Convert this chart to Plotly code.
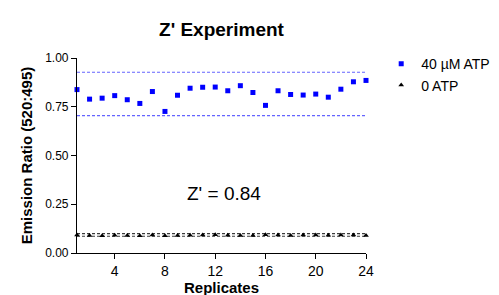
import plotly.graph_objects as go

replicates = list(range(1, 25))
atp40 = [0.838, 0.789, 0.794, 0.807, 0.786, 0.767, 0.828, 0.726, 0.809, 0.845, 0.850, 0.851,
         0.832, 0.858, 0.823, 0.757, 0.832, 0.813, 0.810, 0.815, 0.799, 0.840, 0.878, 0.885]
atp0 = [0.092, 0.090, 0.089, 0.091, 0.090, 0.089, 0.092, 0.089, 0.090, 0.091, 0.092, 0.093,
        0.091, 0.090, 0.090, 0.093, 0.092, 0.090, 0.092, 0.092, 0.091, 0.092, 0.092, 0.090]
atp40_limits = [0.927, 0.705]   # mean +/- 3SD
atp0_limits = [0.099, 0.086]
zprime_text = "Z' = 0.84"
yticks = [0, 0.25, 0.5, 0.75, 1.0]
ytick_labels = ["0.00", "0.25", "0.50", "0.75", "1.00"]
xticks = [4, 8, 12, 16, 20, 24]

FONT = "Liberation Sans, Arial, sans-serif"
fig = go.Figure()

xs = [replicates[0], replicates[-1]]
for v in atp40_limits:
    fig.add_trace(go.Scatter(x=xs, y=[v, v], mode="lines", showlegend=False, hoverinfo="skip",
                             line=dict(color="rgb(100,100,255)", width=1.2, dash="3px,2px")))
for v in atp0_limits:
    fig.add_trace(go.Scatter(x=xs, y=[v, v], mode="lines", showlegend=False, hoverinfo="skip",
                             line=dict(color="rgb(60,60,60)", width=1.2, dash="3px,2px")))

fig.add_trace(go.Scatter(x=replicates, y=atp40, mode="markers", name="40 µM ATP",
                         marker=dict(symbol="square", size=5, color="#0000ff"), cliponaxis=False))
fig.add_trace(go.Scatter(x=replicates, y=atp0, mode="markers", name="0 ATP",
                         marker=dict(symbol="triangle-up", size=5, color="black"), cliponaxis=False))

fig.add_annotation(x=12.67, y=0.304, text=zprime_text, showarrow=False,
                   font=dict(family=FONT, size=19, color="black"))

fig.update_layout(
    width=499, height=295,
    margin=dict(l=69, r=126, t=50, b=43),
    paper_bgcolor="white", plot_bgcolor="white",
    title=dict(text="<b>Z' Experiment</b>", x=0.5, xref="paper", xanchor="center",
               y=0.927, yanchor="middle", font=dict(family=FONT, size=19, color="black")),
    font=dict(family=FONT, size=12, color="black"),
    legend=dict(x=1.0526, y=1.05, xanchor="left", yanchor="top", bgcolor="rgba(0,0,0,0)",
                font=dict(family=FONT, size=14, color="black"), tracegroupgap=0, itemwidth=30),
    xaxis=dict(range=[1, 24], tickvals=xticks, showgrid=False, zeroline=False,
               showline=True, linecolor="black", linewidth=1.2, ticks="outside",
               ticklen=5, tickcolor="black", tickfont=dict(family=FONT, size=14),
               title=dict(text="<b>Replicates</b>", font=dict(family=FONT, size=15), standoff=2)),
    yaxis=dict(range=[0, 1], tickvals=yticks, ticktext=ytick_labels, showgrid=False, zeroline=False,
               showline=True, linecolor="black", linewidth=1.2, ticks="outside",
               ticklen=5, tickcolor="black", tickfont=dict(family=FONT, size=12),
               title=dict(text="<b>Emission Ratio (520:495)</b>", font=dict(family=FONT, size=15), standoff=8)),
)

fig.write_html("out.html")
